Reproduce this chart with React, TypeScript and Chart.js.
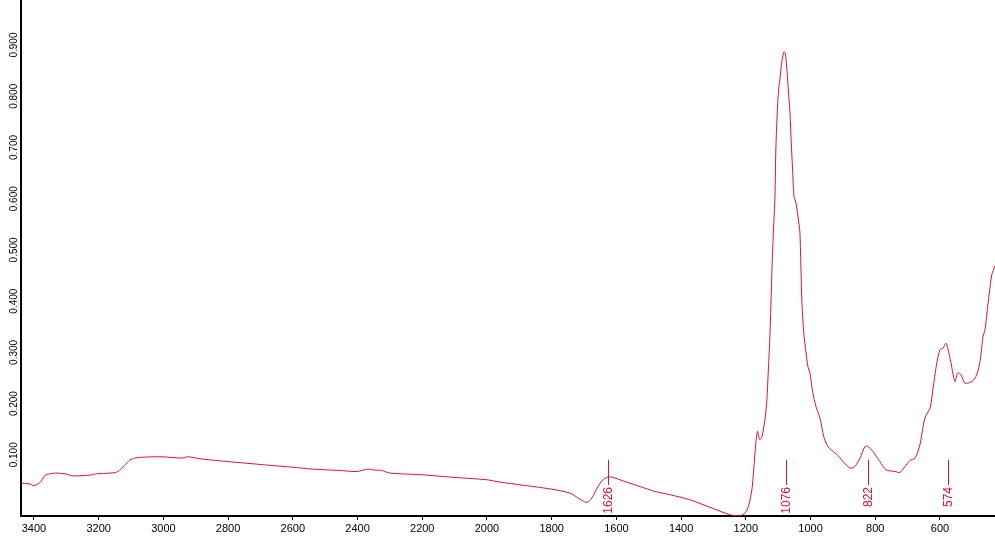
import React, { useEffect, useRef } from "react";
import { Chart, registerables } from "chart.js";

Chart.register(...registerables);

const wavenumbers = [
  3440, 3412, 3400, 3381, 3366, 3351, 3332, 3304, 3283, 3258, 3227, 3205, 3165, 3144, 3128, 3113,
  3103, 3088, 3057, 3004, 2943, 2924, 2887, 2804, 2748, 2665, 2603, 2541, 2455, 2402, 2368, 2346,
  2325, 2300, 2201, 2114, 2000, 1960, 1802, 1744, 1713, 1691, 1676, 1657, 1642, 1626, 1614, 1574,
  1527, 1481, 1434, 1373, 1305, 1249, 1224, 1209, 1196, 1187, 1180, 1175, 1169, 1164, 1157, 1150,
  1141, 1135, 1130, 1126, 1122, 1119, 1115, 1112, 1110, 1107, 1103, 1099, 1095, 1088, 1082, 1078,
  1073, 1068, 1064, 1060, 1055, 1051, 1045, 1039, 1033, 1027, 1021, 1014, 1008, 1002, 993, 983,
  971, 959, 946, 925, 909, 900, 878, 863, 847, 832, 823, 807, 786, 767, 739, 724,
  708, 693, 677, 662, 647, 631, 622, 610, 600, 591, 581, 576, 566, 554, 545, 535,
  523, 501, 489, 477, 467, 461, 452, 440, 430,
];

const absorbance = [
  0.0448, 0.0428, 0.0395, 0.046, 0.0596, 0.0629, 0.0643, 0.0629, 0.059, 0.059, 0.0604, 0.0629, 0.0643, 0.0662, 0.074, 0.0838,
  0.0902, 0.0936, 0.0955, 0.0961, 0.0936, 0.0961, 0.0922, 0.0869, 0.0838, 0.0791, 0.076, 0.0721, 0.0694, 0.0674, 0.0721, 0.0701,
  0.0694, 0.0643, 0.061, 0.0565, 0.0512, 0.0467, 0.0331, 0.0253, 0.0136, 0.0069, 0.0155, 0.0381, 0.0512, 0.0565, 0.0565, 0.0479,
  0.0381, 0.0284, 0.022, 0.0122, -0.004, -0.0171, -0.019, -0.0171, -0.0073, 0.0122, 0.0381, 0.0772, 0.1228, 0.1455, 0.1293, 0.1357,
  0.1683, 0.2073, 0.2723, 0.3244, 0.4024, 0.4674, 0.5326, 0.575, 0.604, 0.7016, 0.7673, 0.8122, 0.8317, 0.8707, 0.8869, 0.8838,
  0.8512, 0.8063, 0.7732, 0.7146, 0.6496, 0.604, 0.5917, 0.565, 0.535, 0.4024, 0.338, 0.299, 0.2717, 0.26, 0.221, 0.1937,
  0.1716, 0.1351, 0.1156, 0.1039, 0.0941, 0.0869, 0.074, 0.0772, 0.0936, 0.1162, 0.1162, 0.1064, 0.0869, 0.0707, 0.0674, 0.0655,
  0.0772, 0.0889, 0.0936, 0.1195, 0.1716, 0.1911, 0.2268, 0.2789, 0.3049, 0.3082, 0.318, 0.3088, 0.2795, 0.243, 0.26, 0.2561,
  0.2399, 0.243, 0.2528, 0.2789, 0.3308, 0.3439, 0.3927, 0.4512, 0.4688,
];

const xTickValues = [3400, 3200, 3000, 2800, 2600, 2400, 2200, 2000, 1800, 1600, 1400, 1200, 1000, 800, 600];
const yTickValues = [0.1, 0.2, 0.3, 0.4, 0.5, 0.6, 0.7, 0.8, 0.9];
const peakLabels = [1626, 1076, 822, 574];

const RED = "rgb(222, 18, 44)";

export default function App() {
  const canvasRef = useRef<HTMLCanvasElement | null>(null);

  useEffect(() => {
    const canvas = canvasRef.current;
    if (!canvas) return;

    const overlay = {
      id: "overlay",
      afterDraw(chart: any) {
        const ctx = chart.ctx;
        const xs = chart.scales.x;
        const ys = chart.scales.y;
        const area = chart.chartArea;
        ctx.save();
        // rotated y tick labels
        ctx.fillStyle = "#000";
        ctx.font = "10px 'Liberation Sans', Arial, sans-serif";
        ctx.textAlign = "center";
        ctx.textBaseline = "middle";
        yTickValues.forEach((v) => {
          const y = ys.getPixelForValue(v);
          ctx.save();
          ctx.translate(14, y);
          ctx.rotate(-Math.PI / 2);
          ctx.fillText(v.toFixed(3), 0, 0);
          ctx.restore();
        });
        // peak annotations
        ctx.strokeStyle = RED;
        ctx.fillStyle = RED;
        ctx.lineWidth = 1;
        ctx.font = "12px 'Liberation Sans', Arial, sans-serif";
        peakLabels.forEach((p) => {
          const x = Math.round(xs.getPixelForValue(p)) + 0.5;
          ctx.beginPath();
          ctx.moveTo(x, area.bottom - 56);
          ctx.lineTo(x, area.bottom - 31);
          ctx.stroke();
          ctx.save();
          ctx.translate(x, area.bottom - 29);
          ctx.rotate(-Math.PI / 2);
          ctx.textAlign = "right";
          ctx.textBaseline = "middle";
          ctx.fillText(String(p), 0, 0);
          ctx.restore();
        });
        ctx.restore();
      },
    };

    const chart = new Chart(canvas, {
      type: "line",
      data: {
        datasets: [
          {
            data: wavenumbers.map((w, i) => ({ x: w, y: absorbance[i] })),
            borderColor: RED,
            borderWidth: 1,
            pointRadius: 0,
            tension: 0.25,
            fill: false,
          },
        ],
      },
      options: {
        animation: false,
        responsive: false,
        layout: { padding: 0 },
        plugins: { legend: { display: false }, tooltip: { enabled: false }, title: { display: false } },
        scales: {
          x: {
            type: "linear",
            reverse: true,
            min: 430,
            max: 3440,
            afterBuildTicks: (s: any) => {
              s.ticks = xTickValues.map((v) => ({ value: v }));
            },
            afterFit: (s: any) => {
              s.height = 24;
            },
            grid: {
              display: true,
              drawOnChartArea: false,
              drawTicks: true,
              tickLength: 4,
              color: "#000",
              lineWidth: 1,
            },
            border: { display: true, color: "#000", width: 2 },
            ticks: {
              autoSkip: false,
              maxRotation: 0,
              minRotation: 0,
              padding: 2,
              color: "#000",
              font: { family: "'Liberation Sans', Arial, sans-serif", size: 11 },
              callback: (v: any) => String(v),
            },
          },
          y: {
            type: "linear",
            min: -0.0195,
            max: 0.988,
            afterBuildTicks: (s: any) => {
              s.ticks = yTickValues.map((v) => ({ value: v }));
            },
            afterFit: (s: any) => {
              s.width = 21;
            },
            grid: { display: false },
            border: { display: true, color: "#000", width: 2 },
            ticks: { display: false },
          },
        },
      },
      plugins: [overlay],
    });

    return () => {
      chart.destroy();
    };
  }, []);

  return (
    <div style={{ position: "fixed", left: 0, top: 0, width: 995, height: 540, background: "#fff" }}>
      <canvas ref={canvasRef} width={995} height={540} style={{ display: "block" }} />
    </div>
  );
}
